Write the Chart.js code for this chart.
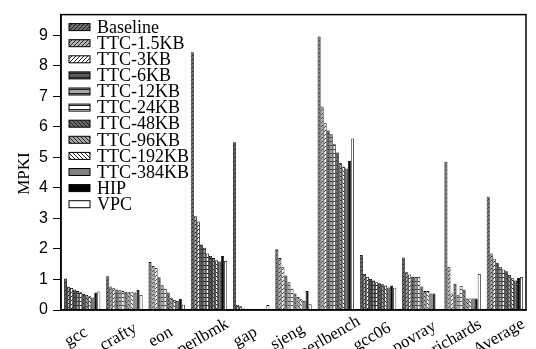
<!DOCTYPE html>
<html>
<head>
<meta charset="utf-8">
<script src="https://cdn.jsdelivr.net/npm/chart.js@4.4.1/dist/chart.umd.min.js"></script>
<style>
  html, body { margin: 0; padding: 0; background: #fff; overflow: hidden; }
  #wrap { width: 536px; height: 349px; overflow: hidden; }
</style>
</head>
<body>
<div id="wrap"><canvas id="grafica" width="536" height="372"></canvas></div>
<script>
const categorias = ['gcc', 'crafty', 'eon', 'perlbmk', 'gap', 'sjeng', 'perlbench', 'gcc06', 'povray', 'richards', 'Average'];
const nombresSeries = ['Baseline', 'TTC-1.5KB', 'TTC-3KB', 'TTC-6KB', 'TTC-12KB', 'TTC-24KB', 'TTC-48KB', 'TTC-96KB', 'TTC-192KB', 'TTC-384KB', 'HIP', 'VPC'];
const tituloY = 'MPKI';
const ticksY = [0, 1, 2, 3, 4, 5, 6, 7, 8, 9];

const baseline = [1.03, 1.11, 1.57, 8.45, 5.50, 1.99, 8.96, 1.80, 1.72, 4.86, 3.71];
const ttc1_5 = [0.76, 0.77, 1.44, 3.07, 0.17, 1.70, 6.67, 1.18, 1.24, 1.42, 1.85];
const ttc3 = [0.72, 0.71, 1.38, 2.90, 0.12, 1.40, 6.12, 1.08, 1.16, 0.54, 1.68];
const ttc6 = [0.67, 0.67, 1.07, 2.15, 0.05, 1.13, 5.88, 1.02, 1.08, 0.86, 1.55];
const ttc12 = [0.62, 0.65, 0.81, 2.04, 0.02, 0.91, 5.76, 0.97, 1.08, 0.48, 1.42];
const ttc24 = [0.58, 0.62, 0.70, 1.85, 0.02, 0.70, 5.43, 0.91, 1.08, 0.79, 1.33];
const ttc48 = [0.53, 0.60, 0.57, 1.77, 0.02, 0.54, 5.16, 0.88, 0.77, 0.67, 1.27];
const ttc96 = [0.49, 0.58, 0.40, 1.70, 0.02, 0.43, 4.82, 0.84, 0.62, 0.38, 1.15];
const ttc192 = [0.45, 0.58, 0.33, 1.63, 0.02, 0.35, 4.70, 0.80, 0.62, 0.38, 1.04];
const ttc384 = [0.41, 0.57, 0.30, 1.59, 0.02, 0.30, 4.64, 0.74, 0.54, 0.38, 0.97];
const hip = [0.57, 0.66, 0.36, 1.77, 0.04, 0.62, 4.88, 0.80, 0.54, 0.38, 1.06];
const vpc = [0.61, 0.49, 0.17, 1.61, 0.16, 0.19, 5.62, 0.73, 0.00, 1.18, 1.08];

const valores = [baseline, ttc1_5, ttc3, ttc6, ttc12, ttc24, ttc48, ttc96, ttc192, ttc384, hip, vpc];

// relleno tramado en gris, como en la figura impresa
function crearPatron(fondo, tipo) {
  const c = document.createElement('canvas');
  c.width = 4;
  c.height = 4;
  const g = c.getContext('2d');
  g.fillStyle = fondo;
  g.fillRect(0, 0, 4, 4);
  if (tipo) {
    g.strokeStyle = '#222';
    g.lineWidth = 1;
    g.beginPath();
    if (tipo === 'diag') {
      g.moveTo(0, 4); g.lineTo(4, 0);
      g.moveTo(-1, 1); g.lineTo(1, -1);
      g.moveTo(3, 5); g.lineTo(5, 3);
    } else if (tipo === 'anti') {
      g.moveTo(0, 0); g.lineTo(4, 4);
      g.moveTo(3, -1); g.lineTo(5, 1);
      g.moveTo(-1, 3); g.lineTo(1, 5);
    } else if (tipo === 'horiz') {
      g.moveTo(0, 1.5); g.lineTo(4, 1.5);
    }
    g.stroke();
  }
  return g.createPattern(c, 'repeat');
}

const rellenos = [
  crearPatron('#6e6e6e', 'diag'),
  crearPatron('#b4b4b4', 'diag'),
  crearPatron('#ffffff', 'diag'),
  crearPatron('#5a5a5a', 'horiz'),
  crearPatron('#a8a8a8', 'horiz'),
  crearPatron('#ffffff', 'horiz'),
  crearPatron('#666666', 'anti'),
  crearPatron('#a8a8a8', 'anti'),
  crearPatron('#ffffff', 'anti'),
  '#808080',
  '#000000',
  '#ffffff'
];

const marco = {
  id: 'marco',
  afterDraw(chart) {
    const a = chart.chartArea;
    const c = chart.ctx;
    c.save();
    c.strokeStyle = '#000';
    c.lineWidth = 1.5;
    c.strokeRect(a.left, a.top, a.right - a.left, a.bottom - a.top);
    c.restore();
  }
};

const leyenda = {
  id: 'leyenda',
  afterDraw(chart) {
    const a = chart.chartArea;
    const c = chart.ctx;
    c.save();
    c.font = '18px "Liberation Serif"';
    c.textBaseline = 'middle';
    chart.data.datasets.forEach((ds, i) => {
      const y = a.top + 12.5 + i * 16.1;
      c.fillStyle = ds.backgroundColor;
      c.fillRect(a.left + 8, y - 3.5, 21, 7);
      c.strokeStyle = '#000';
      c.lineWidth = 1;
      c.strokeRect(a.left + 8, y - 3.5, 21, 7);
      c.fillStyle = '#000';
      c.fillText(ds.label, a.left + 36, y + 1);
    });
    c.restore();
  }
};

const etiquetas = {
  id: 'etiquetas',
  afterDraw(chart) {
    const c = chart.ctx;
    const x = chart.scales.x;
    c.save();
    c.font = '17px "Liberation Serif"';
    c.fillStyle = '#000';
    c.textAlign = 'center';
    c.textBaseline = 'middle';
    categorias.forEach((cat, i) => {
      c.save();
      c.translate(x.getPixelForValue(i) - 6, x.top + 27);
      c.rotate(-30 * Math.PI / 180);
      c.fillText(cat, 0, 0);
      c.restore();
    });
    c.save();
    c.translate(25, 173.5);
    c.rotate(-Math.PI / 2);
    c.fillText(tituloY, 0, 0);
    c.restore();
    c.restore();
  }
};

const ctx = document.getElementById('grafica').getContext('2d');
new Chart(ctx, {
  type: 'bar',
  data: {
    labels: categorias,
    datasets: nombresSeries.map((nombre, i) => ({
      label: nombre,
      data: valores[i],
      backgroundColor: rellenos[i],
      borderColor: '#000',
      borderWidth: 0.8,
      categoryPercentage: 0.86,
      barPercentage: 1
    }))
  },
  options: {
    responsive: false,
    animation: false,
    layout: { padding: { top: 10, right: 10, left: 0, bottom: 0 } },
    plugins: {
      legend: { display: false },
      tooltip: { enabled: false }
    },
    scales: {
      x: {
        grid: { display: false },
        border: { display: true, color: '#000', width: 1.5 },
        ticks: { display: false },
        afterFit: s => { s.height = 62; }
      },
      y: {
        min: 0,
        max: 9.68,
        ticks: {
          stepSize: 1,
          color: '#000',
          padding: 5,
          font: { family: 'Liberation Sans', size: 16 }
        },
        grid: { drawOnChartArea: false, drawTicks: true, tickLength: 8, color: '#000' },
        border: { display: true, color: '#000', width: 1.5 },
        afterBuildTicks: s => { s.ticks = ticksY.map(v => ({ value: v })); },
        afterFit: s => { s.width = 61; }
      }
    }
  },
  plugins: [marco, leyenda, etiquetas]
});
</script>
</body>
</html>
